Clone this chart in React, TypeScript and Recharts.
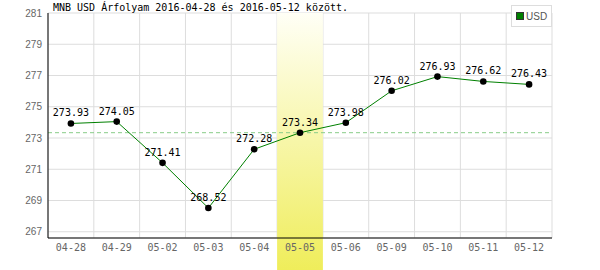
import React from "react";
import {
  LineChart,
  Line,
  XAxis,
  YAxis,
  CartesianGrid,
  ReferenceArea,
  ReferenceLine,
  LabelList,
} from "recharts";

const dates = [
  "04-28", "04-29", "05-02", "05-03", "05-04", "05-05",
  "05-06", "05-09", "05-10", "05-11", "05-12",
];
const usdRates = [
  273.93, 274.05, 271.41, 268.52, 272.28, 273.34,
  273.98, 276.02, 276.93, 276.62, 276.43,
];
const yTicks = [267, 269, 271, 273, 275, 277, 279, 281];
const highlightDay = "05-05";
const highlightRate = 273.34;
const title = "MNB USD Árfolyam 2016-04-28 és 2016-05-12 között.";

const data = dates.map((date, i) => ({ date, usd: usdRates[i] }));

const mono = "'DejaVu Sans Mono', monospace";
const sans = "'Liberation Sans', Arial, sans-serif";

// grid lines on the band edges, not the band centres
const bandEdges = ({ offset }: any) => {
  const n = dates.length;
  return Array.from({ length: n + 1 }, (_, i) => offset.left + (i * offset.width) / n);
};

const App = () => {
  return (
    <div style={{ position: "absolute", left: 0, top: 0, width: 600, height: 270, background: "#fff" }}>
      <LineChart
        width={600}
        height={270}
        data={data}
        margin={{ top: 13, right: 48, bottom: 0, left: 0 }}
      >
        <defs>
          <linearGradient id="dayGradient" x1="0" y1="0" x2="0" y2="1">
            <stop offset="0%" stopColor="#fffff6" />
            <stop offset="100%" stopColor="#efed5a" />
          </linearGradient>
        </defs>

        <CartesianGrid
          stroke="#dddddd"
          verticalCoordinatesGenerator={bandEdges}
        />

        <XAxis
          dataKey="date"
          scale="band"
          height={32}
          axisLine={{ stroke: "#000" }}
          tickLine={false}
          tickSize={4}
          tickMargin={2}
          interval={0}
          tick={{ fill: "#666", fontSize: 10, fontFamily: mono }}
        />
        <YAxis
          width={48}
          domain={[266.6, 281]}
          ticks={yTicks}
          axisLine={{ stroke: "#000" }}
          tickLine={false}
          tickSize={4}
          tickMargin={2}
          tick={{ fill: "#666", fontSize: 10, fontFamily: sans }}
        />

        <ReferenceArea
          x1={highlightDay}
          x2={highlightDay}
          y1={264.5}
          y2={281}
          ifOverflow="visible"
          fill="url(#dayGradient)"
          fillOpacity={1}
          stroke="none"
        />

        <ReferenceLine
          y={highlightRate}
          stroke="#88cc88"
          strokeDasharray="4 3"
        />

        <Line
          type="linear"
          dataKey="usd"
          stroke="#008000"
          strokeWidth={1}
          dot={{ r: 3.3, fill: "#000", stroke: "none" }}
          activeDot={false}
          isAnimationActive={false}
        >
          <LabelList
            dataKey="usd"
            position="top"
            offset={7}
            formatter={(v: any) => Number(v).toFixed(2)}
            style={{ fill: "#000", fontSize: 10, fontFamily: mono }}
          />
        </Line>
      </LineChart>

      <div
        style={{
          position: "absolute",
          left: 53,
          top: 2,
          fontFamily: mono,
          fontSize: 10,
          color: "#000",
          whiteSpace: "pre",
          lineHeight: "12px",
        }}
      >
        {title}
      </div>

      <div
        style={{
          position: "absolute",
          left: 511,
          top: 5,
          width: 41,
          height: 22,
          border: "1px solid #dddddd",
          background: "#fff",
          boxSizing: "border-box",
          display: "flex",
          alignItems: "center",
          paddingLeft: 4,
          fontFamily: sans,
          fontSize: 10,
          color: "#555",
        }}
      >
        <span
          style={{
            display: "inline-block",
            width: 6,
            height: 6,
            background: "#008000",
            border: "1px solid #333",
            marginRight: 2,
          }}
        />
        USD
      </div>
    </div>
  );
};

export default App;
